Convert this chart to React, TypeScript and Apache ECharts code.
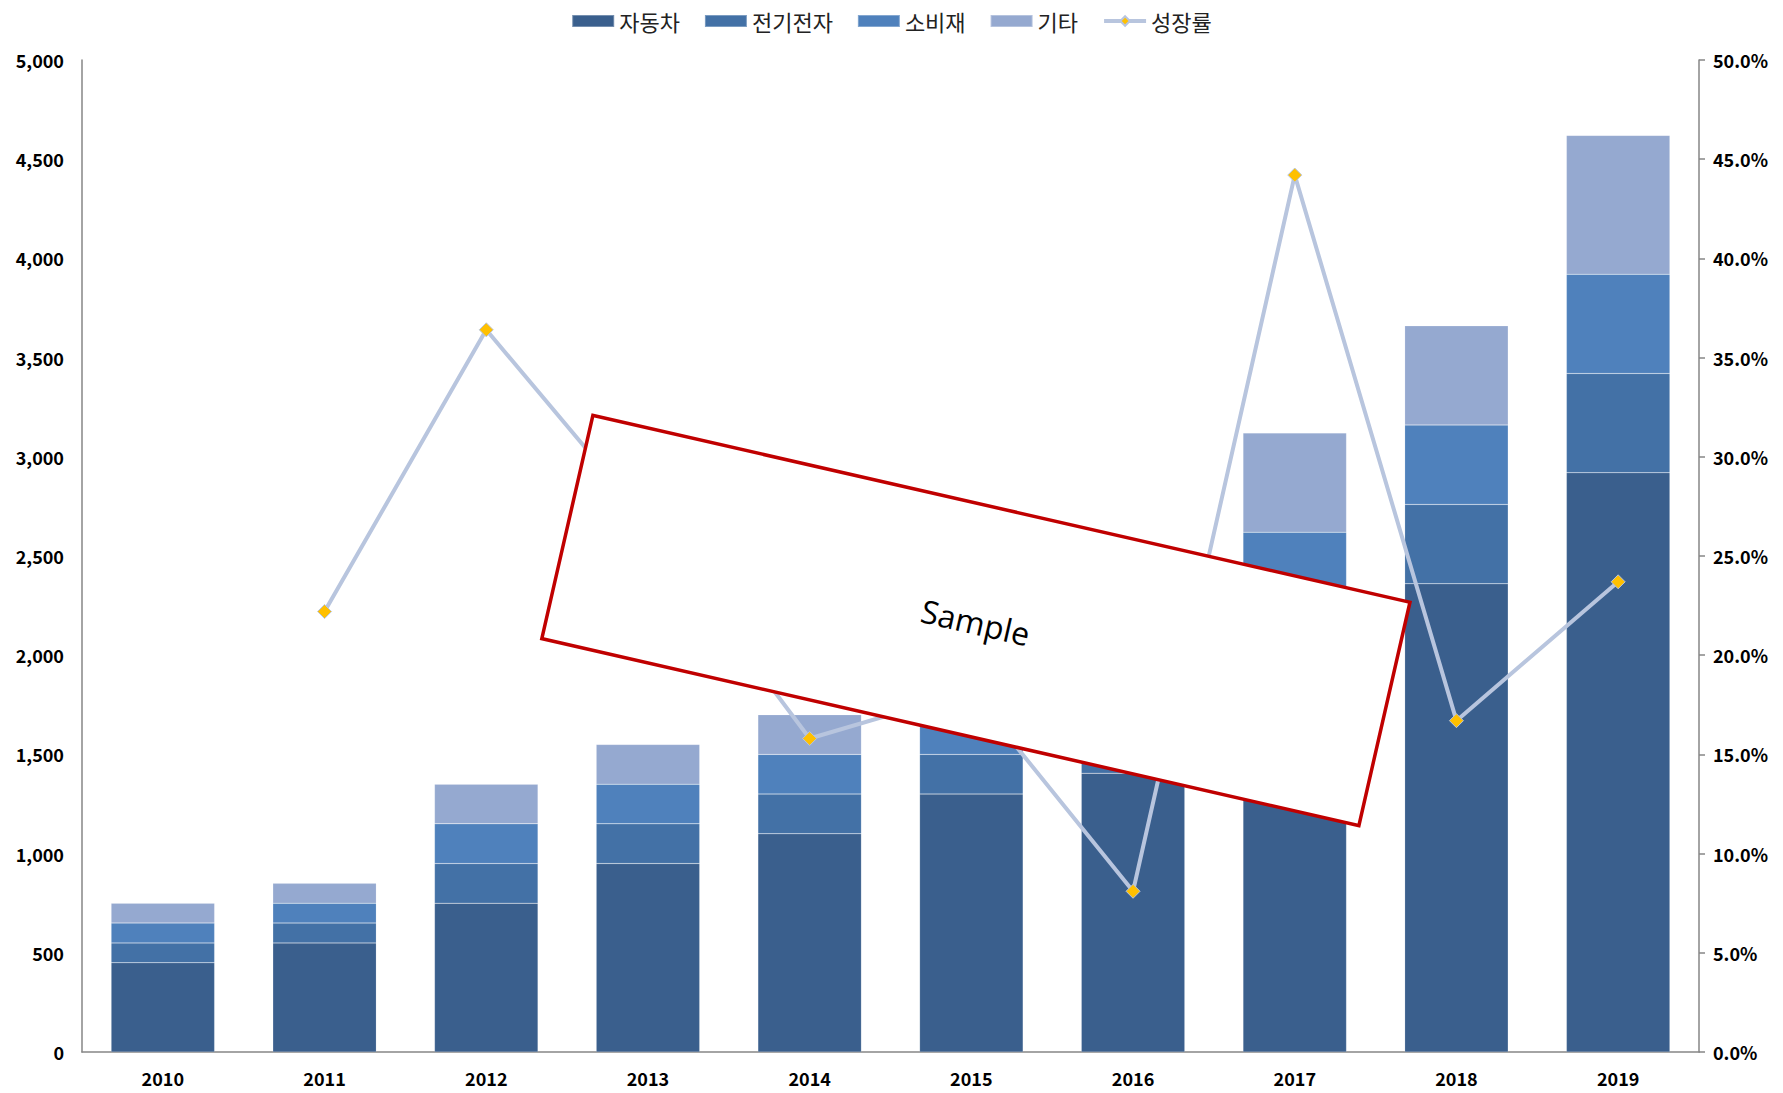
import React, { useEffect, useRef } from "react";
import * as echarts from "echarts";

const years = ["2010", "2011", "2012", "2013", "2014", "2015", "2016", "2017", "2018", "2019"];
const auto = [450, 550, 750, 950, 1100, 1300, 1405, 2020, 2360, 2920];
const electronics = [100, 100, 200, 200, 200, 200, 200, 300, 400, 500];
const consumer = [100, 100, 200, 200, 200, 200, 200, 300, 400, 500];
const others = [100, 100, 200, 200, 200, 200, 200, 500, 500, 700];
const growth = [null, 22.2, 36.4, 26.7, 15.8, 18.2, 8.1, 44.2, 16.7, 23.7];

const FONT = "'Noto Sans CJK KR', 'Noto Sans', sans-serif";

export default function App() {
  const ref = useRef<HTMLDivElement>(null);
  useEffect(() => {
    document.body.style.margin = "0";
    if (!ref.current) return;
    const chart = echarts.init(ref.current, undefined, { renderer: "svg" });
    const axisLabel = { fontFamily: FONT, fontWeight: "bold" as const, fontSize: 18, color: "#000" };
    const axisLine = { show: true, lineStyle: { color: "#868686", width: 1.5 } };
    const barSeries = (name: string, data: number[], color: string) => ({
      name,
      type: "bar",
      stack: "total",
      data,
      barCategoryGap: "36%",
      itemStyle: { color, borderColor: "rgba(255,255,255,0.3)", borderWidth: 0.5 },
    });
    chart.setOption({
      animation: false,
      backgroundColor: "#fff",
      textStyle: { fontFamily: FONT },
      legend: {
        top: 5,
        left: "center",
        itemWidth: 42,
        itemHeight: 12,
        itemGap: 24,
        textStyle: { fontFamily: FONT, fontSize: 22, color: "#222" },
        data: [
          { name: "자동차", icon: "rect" },
          { name: "전기전자", icon: "rect" },
          { name: "소비재", icon: "rect" },
          { name: "기타", icon: "rect" },
          { name: "성장률", lineStyle: { width: 4, color: "#b8c5de" } },
        ],
      },
      grid: { left: 82, right: 84, top: 60, bottom: 41 },
      xAxis: {
        type: "category",
        data: years,
        axisLine,
        axisTick: { show: false },
        axisLabel: { ...axisLabel, margin: 17 },
      },
      yAxis: [
        {
          type: "value",
          min: 0,
          max: 5000,
          interval: 500,
          axisLine,
          axisTick: { show: false },
          splitLine: { show: false },
          axisLabel: {
            ...axisLabel,
            margin: 18,
            formatter: (v: number) => v.toLocaleString("en-US"),
          },
        },
        {
          type: "value",
          min: 0,
          max: 50,
          interval: 5,
          position: "right",
          axisLine,
          axisTick: { show: true, inside: false, length: 6, lineStyle: { color: "#868686", width: 1.5 } },
          splitLine: { show: false },
          axisLabel: {
            ...axisLabel,
            margin: 14,
            formatter: (v: number) => v.toFixed(1) + "%",
          },
        },
      ],
      series: [
        barSeries("자동차", auto, "#3a5f8d"),
        barSeries("전기전자", electronics, "#4371a6"),
        barSeries("소비재", consumer, "#4f81bc"),
        barSeries("기타", others, "#95a9d0"),
        {
          name: "성장률",
          type: "line",
          yAxisIndex: 1,
          data: growth,
          symbol: "diamond",
          symbolSize: 14,
          lineStyle: { color: "#b8c5de", width: 4 },
          itemStyle: { color: "#ffc000", borderColor: "#b8c5de", borderWidth: 1 },
          z: 5,
        },
      ],
      graphic: [
        {
          type: "group",
          x: 976,
          y: 620,
          rotation: (-12.9 * Math.PI) / 180,
          z: 100,
          children: [
            {
              type: "rect",
              shape: { x: -419, y: -114, width: 838, height: 229 },
              style: { fill: "#fff", stroke: "#c00000", lineWidth: 3.5 },
              z: 100,
            },
            {
              type: "text",
              x: 0,
              y: 2,
              z: 101,
              style: {
                text: "Sample",
                fill: "#000",
                font: "32px 'Open Sans', 'Noto Sans', sans-serif",
                align: "center",
                verticalAlign: "middle",
              },
            },
          ],
        },
      ],
    });
    return () => chart.dispose();
  }, []);
  return <div ref={ref} style={{ width: 1783, height: 1093 }} />;
}
